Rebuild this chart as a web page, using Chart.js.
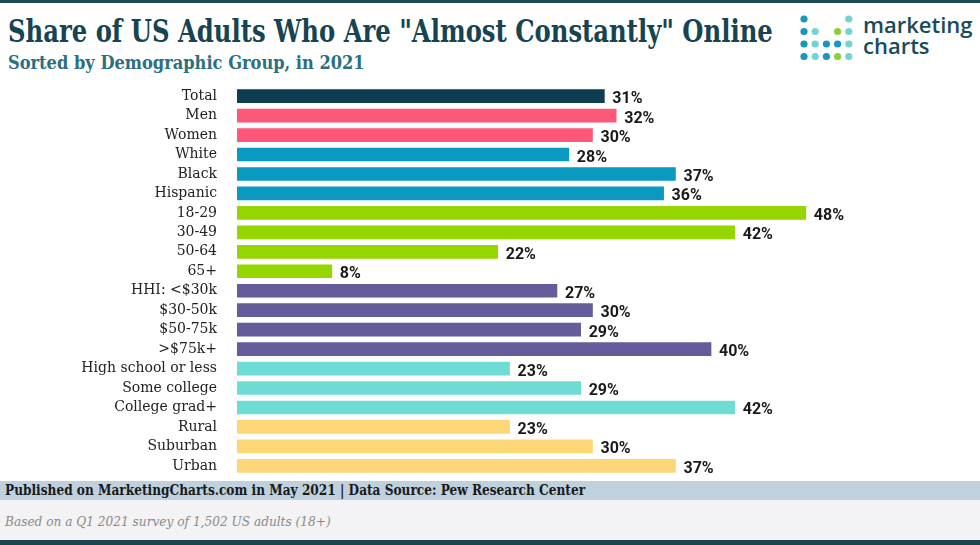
<!DOCTYPE html>
<html>
<head>
<meta charset="utf-8">
<script src="https://cdn.jsdelivr.net/npm/chart.js@4"></script>
<style>
  html, body { margin: 0; padding: 0; background: #fff; }
  body { width: 980px; height: 545px; position: relative; overflow: hidden; }
  .topline { position: absolute; left: 0; top: 0; width: 980px; height: 3px; background: #1d4a58; }
  .title { position: absolute; left: 8px; top: 13px; font-family: "DejaVu Serif Condensed", "DejaVu Serif"; font-stretch: condensed;
    font-weight: bold; font-size: 31px; color: #174452; white-space: nowrap; transform: scaleX(0.871); transform-origin: 0 0; }
  .subtitle { position: absolute; left: 8px; top: 51px; font-family: "DejaVu Serif Condensed", "DejaVu Serif"; font-stretch: condensed;
    font-weight: bold; font-size: 19px; color: #2b6f80; white-space: nowrap; transform: scaleX(0.95); transform-origin: 0 0; }
  .logo-text { position: absolute; left: 863px; top: 14px; font-family: "Open Sans", sans-serif; font-weight: 600;
    font-size: 22px; line-height: 21px; color: #194b5a; }
  #dots { position: absolute; left: 798px; top: 12px; }
  #chart { position: absolute; left: 0; top: 66px; }
  .foot1 { position: absolute; left: 0; top: 481px; width: 980px; height: 19px; background: #bed1dd; }
  .foot1 span { position: absolute; left: 5px; top: 1px; font-family: "DejaVu Serif Condensed", "DejaVu Serif"; font-stretch: condensed;
    font-weight: bold; font-size: 14px; color: #1a1a1a; white-space: nowrap; transform: scaleX(0.965); transform-origin: 0 0; }
  .foot2 { position: absolute; left: 0; top: 500px; width: 980px; height: 40px; background: #f3f2f5; }
  .foot2 span { position: absolute; left: 5px; top: 13px; font-family: "DejaVu Serif Condensed", "DejaVu Serif"; font-stretch: condensed;
    font-style: italic; font-size: 13.5px; color: #8a8a8a; white-space: nowrap; }
  .botline { position: absolute; left: 0; top: 540px; width: 980px; height: 5px; background: #1d4350; }
</style>
</head>
<body>
<div class="topline"></div>
<div class="title">Share of US Adults Who Are "Almost Constantly" Online</div>
<div class="subtitle">Sorted by Demographic Group, in 2021</div>
<canvas id="dots" width="62" height="50"></canvas>
<div class="logo-text">marketing<br>charts</div>
<canvas id="chart" width="980" height="430"></canvas>
<div class="foot1"><span>Published on MarketingCharts.com in May 2021 | Data Source: Pew Research Center</span></div>
<div class="foot2"><span>Based on a Q1 2021 survey of 1,502 US adults (18+)</span></div>
<div class="botline"></div>
<script>
// chart data
const categories = ['Total', 'Men', 'Women', 'White', 'Black', 'Hispanic', '18-29', '30-49', '50-64', '65+',
  'HHI: <$30k', '$30-50k', '$50-75k', '>$75k+', 'High school or less', 'Some college', 'College grad+',
  'Rural', 'Suburban', 'Urban'];
const shares = [31, 32, 30, 28, 37, 36, 48, 42, 22, 8, 27, 30, 29, 40, 23, 29, 42, 23, 30, 37];
const barColors = ['#0d3d4f', '#fc5877', '#fc5877', '#0a99c1', '#0a99c1', '#0a99c1',
  '#95d500', '#95d500', '#95d500', '#95d500', '#655c9b', '#655c9b', '#655c9b', '#655c9b',
  '#6edbd5', '#6edbd5', '#6edbd5', '#fdd677', '#fdd677', '#fdd677'];

// logo dots
function drawLogoDots() {
  const c = document.getElementById('dots').getContext('2d');
  const B = '#1797bf', T = '#72d3d3', G = '#8dcc3a';
  const grid = [
    [B, null, null, null, T],
    [B, T, null, G, T],
    [B, T, B, B, T],
    [B, T, B, G, T]
  ];
  grid.forEach((row, r) => row.forEach((col, i) => {
    if (!col) return;
    c.fillStyle = col;
    c.beginPath();
    c.arc(6 + i * 11.2, 7 + r * 12.5, 3.6, 0, Math.PI * 2);
    c.fill();
  }));
}

// value labels at bar ends
const valueLabels = {
  id: 'valueLabels',
  afterDatasetsDraw(chart) {
    const ctx = chart.ctx;
    const meta = chart.getDatasetMeta(0);
    ctx.save();
    ctx.font = 'bold 16px Roboto, "Liberation Sans", sans-serif';
    ctx.fillStyle = '#1a1a1a';
    ctx.textBaseline = 'middle';
    meta.data.forEach((bar, i) => {
      ctx.fillText(shares[i] + '%', bar.x + 8, bar.y + 3);
    });
    ctx.restore();
  }
};

function initializeChart() {
  const ctx = document.getElementById('chart').getContext('2d');
  new Chart(ctx, {
    type: 'bar',
    data: {
      labels: categories,
      datasets: [{
        data: shares,
        backgroundColor: barColors,
        barThickness: 13,
        borderWidth: 0
      }]
    },
    options: {
      indexAxis: 'y',
      responsive: false,
      animation: false,
      layout: { padding: 0 },
      scales: {
        x: { display: false, min: 0, max: 62.7 },
        y: {
          grid: { display: false },
          border: { display: false },
          ticks: {
            autoSkip: false,
            padding: 12,
            color: '#222',
            font: { family: '"DejaVu Serif"', size: 14 }
          },
          afterFit(scale) { scale.width = 237; }
        }
      },
      plugins: {
        legend: { display: false },
        tooltip: { enabled: false }
      }
    },
    plugins: [valueLabels]
  });
}

document.addEventListener('DOMContentLoaded', () => {
  drawLogoDots();
  initializeChart();
});
</script>
</body>
</html>
